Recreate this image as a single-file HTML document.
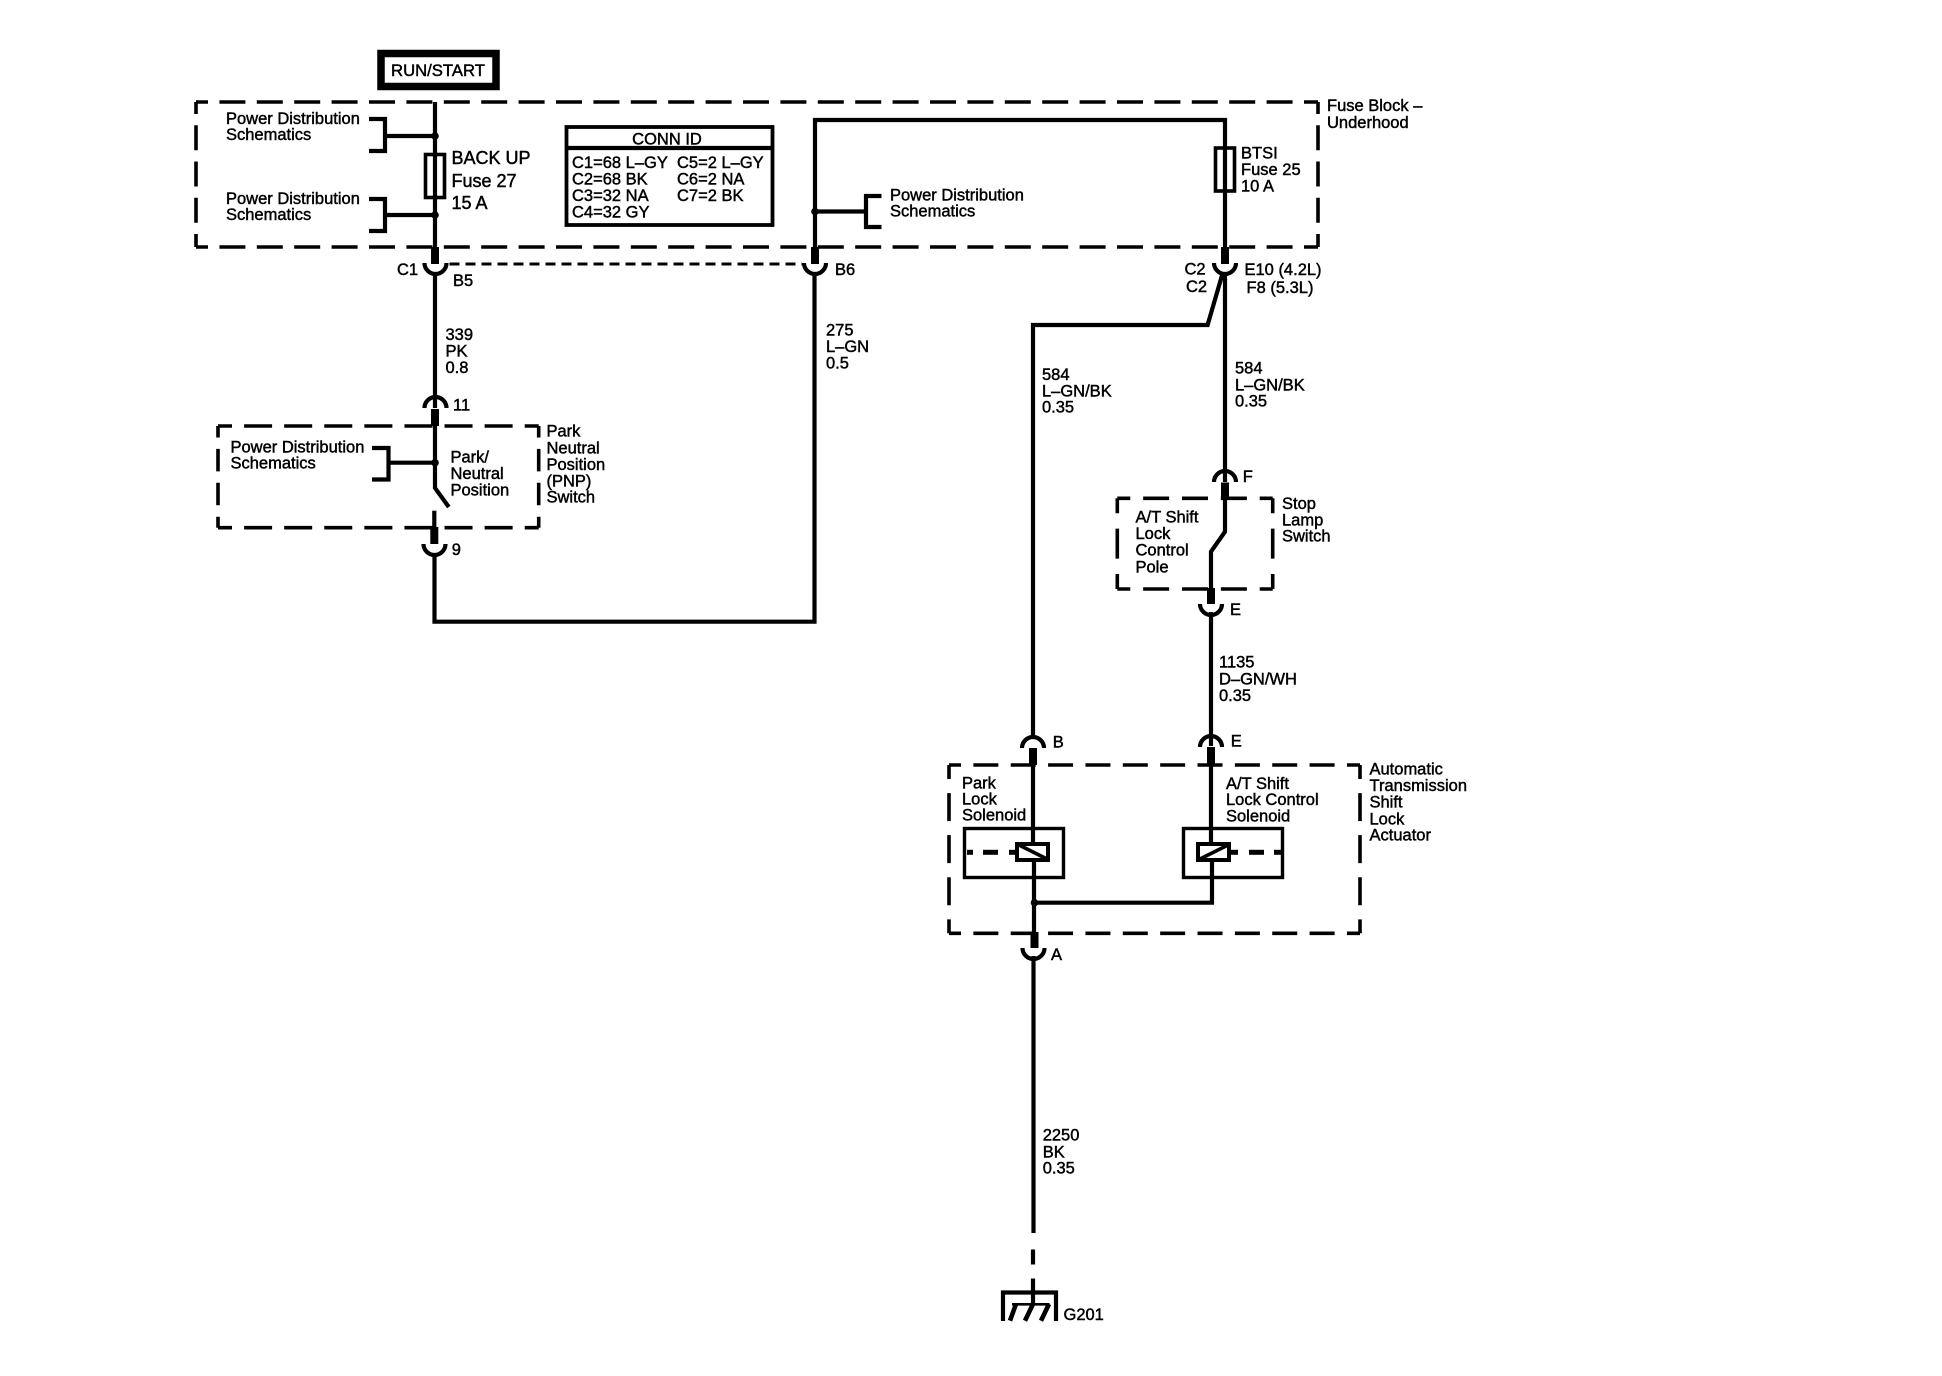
<!DOCTYPE html>
<html>
<head>
<meta charset="utf-8">
<style>
html,body{margin:0;padding:0;background:#fff;width:1942px;height:1376px;overflow:hidden}
svg{display:block}
text{font-family:"Liberation Sans",sans-serif;font-size:16.5px;fill:#000;stroke:#000;stroke-width:.45}
.w{fill:none;stroke:#000;stroke-width:4.2}
.t{fill:none;stroke:#000;stroke-width:8}
.d{fill:none;stroke:#000;stroke-width:3.6}
</style>
</head>
<body>
<svg width="1942" height="1376" viewBox="0 0 1942 1376" xmlns="http://www.w3.org/2000/svg">
<rect width="1942" height="1376" fill="#fff"/>

<!-- RUN/START -->
<rect x="381" y="53.5" width="115" height="33" fill="#fff" stroke="#000" stroke-width="7.5"/>
<text x="438" y="76" text-anchor="middle" style="font-size:16.7px">RUN/START</text>

<!-- Fuse block dashed box -->
<line class="d" x1="196" y1="102" x2="1318" y2="102" stroke-dasharray="26 11.4" stroke-dashoffset="14"/>
<line class="d" x1="196" y1="247" x2="1318" y2="247" stroke-dasharray="26 11.4" stroke-dashoffset="14"/>
<line class="d" x1="196" y1="102" x2="196" y2="247" stroke-dasharray="25 11.25" stroke-dashoffset="13"/>
<line class="d" x1="1318" y1="102" x2="1318" y2="247" stroke-dasharray="25 11.25" stroke-dashoffset="13"/>
<text x="1327" y="111">Fuse Block –</text>
<text x="1327" y="128">Underhood</text>

<!-- Left wire top -->
<line class="w" x1="435" y1="102" x2="435" y2="264"/>
<circle cx="435" cy="136" r="3.8"/>
<circle cx="435" cy="215" r="3.8"/>
<path class="w" d="M369 119H385V151H369M385 136H435"/>
<path class="w" d="M369 199H385V231H369M385 215H435"/>
<text x="226" y="124">Power Distribution</text>
<text x="226" y="140">Schematics</text>
<text x="226" y="204">Power Distribution</text>
<text x="226" y="220">Schematics</text>

<!-- Fuse 27 -->
<rect x="425.5" y="154.5" width="19" height="43" fill="none" stroke="#000" stroke-width="3.6"/>
<text x="451.5" y="164" style="font-size:18px">BACK UP</text>
<text x="451.5" y="187" style="font-size:18px">Fuse 27</text>
<text x="451.5" y="209" style="font-size:18px">15 A</text>

<!-- CONN ID -->
<rect x="566.5" y="127" width="206" height="98" fill="#fff" stroke="#000" stroke-width="3.8"/>
<line class="w" x1="566" y1="148" x2="773" y2="148"/>
<text x="667" y="144.5" text-anchor="middle">CONN ID</text>
<text x="572" y="168">C1=68 L–GY</text>
<text x="572" y="184.5">C2=68 BK</text>
<text x="572" y="201">C3=32 NA</text>
<text x="572" y="217.5">C4=32 GY</text>
<text x="677" y="168">C5=2 L–GY</text>
<text x="677" y="184.5">C6=2 NA</text>
<text x="677" y="201">C7=2 BK</text>

<!-- Middle wire loop -->
<path class="w" d="M815 264V120H1225V264"/>
<circle cx="815" cy="211.5" r="3.8"/>
<path class="w" d="M881.5 196H866V227H881.5M866 211.5H815"/>
<text x="890" y="200.5">Power Distribution</text>
<text x="890" y="216.5">Schematics</text>

<!-- BTSI fuse -->
<rect x="1215.5" y="148" width="19" height="43" fill="none" stroke="#000" stroke-width="3.6"/>
<text x="1241" y="158.5">BTSI</text>
<text x="1241" y="175">Fuse 25</text>
<text x="1241" y="191.5">10 A</text>

<!-- Connectors row C1/B6/C2 -->
<line class="t" x1="435" y1="247" x2="435" y2="264"/>
<line class="t" x1="815" y1="247" x2="815" y2="264"/>
<line class="t" x1="1225" y1="247" x2="1225" y2="264"/>
<path class="w" d="M424.5 263A11 11 0 0 0 446.5 263"/>
<path class="w" d="M804 263A11 11 0 0 0 826 263"/>
<path class="w" d="M1214 263A11 11 0 0 0 1236 263"/>
<line x1="449.5" y1="264" x2="802" y2="264" stroke="#000" stroke-width="3" stroke-dasharray="10 6"/>
<text x="397" y="275">C1</text>
<text x="453" y="286">B5</text>
<text x="835" y="275">B6</text>
<text x="1184.5" y="274.5">C2</text>
<text x="1186" y="292">C2</text>
<text x="1244.5" y="275">E10 (4.2L)</text>
<text x="1246.5" y="293">F8 (5.3L)</text>

<!-- Wire 339 -->
<line class="w" x1="435" y1="272" x2="435" y2="408"/>
<text x="445.5" y="340">339</text>
<text x="445.5" y="356.5">PK</text>
<text x="445.5" y="373">0.8</text>

<!-- Connector 11 -->
<path class="w" d="M424.5 408A11 11 0 0 1 446.5 408"/>
<text x="453" y="410.5">11</text>
<line class="t" x1="435" y1="409" x2="435" y2="426"/>

<!-- PNP switch box -->
<line class="d" x1="218" y1="426" x2="538.7" y2="426" stroke-dasharray="28 12.09" stroke-dashoffset="14"/>
<line class="d" x1="218" y1="527.7" x2="538.7" y2="527.7" stroke-dasharray="28 12.09" stroke-dashoffset="14"/>
<line class="d" x1="218" y1="426" x2="218" y2="527.7" stroke-dasharray="22.5 11.4" stroke-dashoffset="11"/>
<line class="d" x1="538.7" y1="426" x2="538.7" y2="527.7" stroke-dasharray="22.5 11.4" stroke-dashoffset="11"/>
<text x="230.5" y="452.5">Power Distribution</text>
<text x="230.5" y="468.5">Schematics</text>
<path class="w" d="M372 448H388.5V479.5H372M388.5 462.7H435"/>
<circle cx="435" cy="462.7" r="3.8"/>
<path class="w" d="M435 426V488L448.8 507"/>
<line class="w" x1="434.3" y1="510.7" x2="434.3" y2="544"/>
<line class="t" x1="434.3" y1="527" x2="434.3" y2="544"/>
<text x="450.5" y="462.5">Park/</text>
<text x="450.5" y="479">Neutral</text>
<text x="450.5" y="495.5">Position</text>
<text x="546.5" y="436.5">Park</text>
<text x="546.5" y="453.3">Neutral</text>
<text x="546.5" y="470">Position</text>
<text x="546.5" y="486.5">(PNP)</text>
<text x="546.5" y="502.7">Switch</text>

<!-- Connector 9 and loop -->
<path class="w" d="M423.5 544A11 11 0 0 0 445.5 544"/>
<text x="451.7" y="555">9</text>
<path class="w" d="M434.5 553V621.7H814.5V272"/>
<text x="826" y="335.5">275</text>
<text x="826" y="352">L–GN</text>
<text x="826" y="368.5">0.5</text>

<!-- Wire 584 branches -->
<path class="w" d="M1223 272L1207.6 325H1033V738"/>
<line class="w" x1="1225" y1="272" x2="1225" y2="482"/>
<text x="1042" y="380">584</text>
<text x="1042" y="396.5">L–GN/BK</text>
<text x="1042" y="412.7">0.35</text>
<text x="1235" y="373.5">584</text>
<text x="1235" y="390.5">L–GN/BK</text>
<text x="1235" y="406.7">0.35</text>

<!-- Connector F -->
<path class="w" d="M1214 482A11 11 0 0 1 1236 482"/>
<text x="1242.7" y="482">F</text>
<line class="t" x1="1225" y1="482.5" x2="1225" y2="498.5"/>

<!-- Stop lamp switch box -->
<line class="d" x1="1117.3" y1="498.3" x2="1272.7" y2="498.3" stroke-dasharray="26 12.85" stroke-dashoffset="13"/>
<line class="d" x1="1117.3" y1="589" x2="1272.7" y2="589" stroke-dasharray="26 12.85" stroke-dashoffset="13"/>
<line class="d" x1="1117.3" y1="498.3" x2="1117.3" y2="589" stroke-dasharray="30 15.35" stroke-dashoffset="15"/>
<line class="d" x1="1272.7" y1="498.3" x2="1272.7" y2="589" stroke-dasharray="30 15.35" stroke-dashoffset="15"/>
<path class="w" d="M1225 498V531.7L1211 551.7V604"/>
<line class="t" x1="1211" y1="588" x2="1211" y2="604"/>
<text x="1135.5" y="522.3">A/T Shift</text>
<text x="1135.5" y="539">Lock</text>
<text x="1135.5" y="555.7">Control</text>
<text x="1135.5" y="572.3">Pole</text>
<text x="1282" y="509">Stop</text>
<text x="1282" y="525.7">Lamp</text>
<text x="1282" y="541.7">Switch</text>

<!-- Connector E upper -->
<path class="w" d="M1200 604A11 11 0 0 0 1222 604"/>
<text x="1230" y="615">E</text>
<line class="w" x1="1211" y1="612" x2="1211" y2="746"/>
<text x="1219" y="667.7">1135</text>
<text x="1219" y="684.3">D–GN/WH</text>
<text x="1219" y="701">0.35</text>

<!-- Connector E lower / B -->
<path class="w" d="M1200 747A11 11 0 0 1 1222 747"/>
<text x="1230.7" y="746.7">E</text>
<line class="t" x1="1211" y1="747" x2="1211" y2="765"/>
<path class="w" d="M1022 748A11 11 0 0 1 1044 748"/>
<text x="1052.7" y="747.7">B</text>
<line class="t" x1="1033" y1="748" x2="1033" y2="765"/>

<!-- Actuator dashed box -->
<line class="d" x1="949" y1="765" x2="1360" y2="765" stroke-dasharray="25 12.36" stroke-dashoffset="13"/>
<line class="d" x1="949" y1="933.3" x2="1360" y2="933.3" stroke-dasharray="25 12.36" stroke-dashoffset="13"/>
<line class="d" x1="949" y1="765" x2="949" y2="933.3" stroke-dasharray="28 14.08" stroke-dashoffset="14"/>
<line class="d" x1="1360" y1="765" x2="1360" y2="933.3" stroke-dasharray="28 14.08" stroke-dashoffset="14"/>
<text x="962" y="788.3">Park</text>
<text x="962" y="804.3">Lock</text>
<text x="962" y="820.7">Solenoid</text>
<text x="1226" y="789">A/T Shift</text>
<text x="1226" y="805">Lock Control</text>
<text x="1226" y="821.7">Solenoid</text>
<text x="1369.5" y="774.3">Automatic</text>
<text x="1369.5" y="791">Transmission</text>
<text x="1369.5" y="807.7">Shift</text>
<text x="1369.5" y="824.3">Lock</text>
<text x="1369.5" y="840.7">Actuator</text>

<!-- Solenoid boxes -->
<rect x="964.5" y="828.5" width="99" height="49" fill="#fff" stroke="#000" stroke-width="3.4"/>
<rect x="1183.5" y="828.5" width="99" height="49" fill="#fff" stroke="#000" stroke-width="3.4"/>
<path class="w" d="M1033 765V843M1034 861V948"/>
<path class="w" d="M1211 765V843M1212 861V902.7H1034"/>
<circle cx="1034.5" cy="902.7" r="3.8"/>
<rect x="1017" y="844" width="31" height="16" fill="#fff" stroke="#000" stroke-width="4"/>
<rect x="1198" y="844" width="31" height="16" fill="#fff" stroke="#000" stroke-width="4"/>
<line x1="1019" y1="845" x2="1047" y2="859" stroke="#000" stroke-width="3.6"/>
<line x1="1200" y1="859" x2="1228" y2="845" stroke="#000" stroke-width="3.6"/>
<g stroke="#000" stroke-width="5">
<line x1="967" y1="852.3" x2="973" y2="852.3"/>
<line x1="983" y1="852.3" x2="998" y2="852.3"/>
<line x1="1009" y1="852.3" x2="1016" y2="852.3"/>
<line x1="1231" y1="852.3" x2="1238" y2="852.3"/>
<line x1="1249" y1="852.3" x2="1264" y2="852.3"/>
<line x1="1274" y1="852.3" x2="1281" y2="852.3"/>
</g>

<!-- Connector A -->
<line class="t" x1="1034.5" y1="932" x2="1034.5" y2="948"/>
<path class="w" d="M1022.5 948A11 11 0 0 0 1044.5 948"/>
<text x="1051" y="960">A</text>
<line class="w" x1="1033.5" y1="956" x2="1033.5" y2="1233"/>
<text x="1042.7" y="1140.7">2250</text>
<text x="1042.7" y="1157.3">BK</text>
<text x="1042.7" y="1173.3">0.35</text>

<!-- Ground -->
<line class="w" x1="1033" y1="1249.5" x2="1033" y2="1264.5"/>
<line class="w" x1="1033" y1="1278.5" x2="1033" y2="1304"/>
<path class="w" d="M1003 1321V1292.5H1056V1321"/>
<line x1="1012" y1="1304.3" x2="1049.5" y2="1304.3" stroke="#000" stroke-width="2.6"/>
<path fill="none" stroke="#000" stroke-width="4.6" d="M1016 1304L1010 1320.7M1033 1304L1025 1320.7M1049 1304L1041 1320.7"/>
<text x="1063.5" y="1320">G201</text>
</svg>
</body>
</html>
